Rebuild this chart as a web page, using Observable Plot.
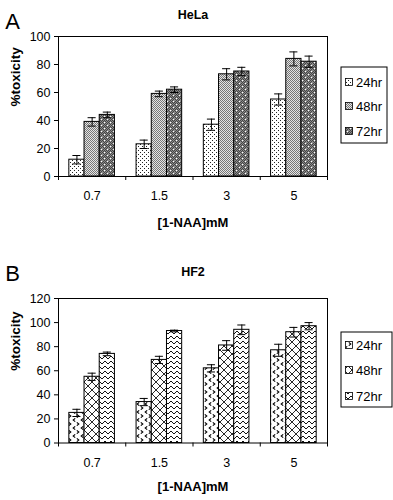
<!DOCTYPE html>
<html>
<head>
<meta charset="utf-8">
<script src="https://cdn.jsdelivr.net/npm/d3@7"></script>
<script src="https://cdn.jsdelivr.net/npm/@observablehq/plot@0.6"></script>
<style>
  body { margin: 0; background: #fff; font-family: "Liberation Sans", Arial, sans-serif; }
  #wrap { width: 393px; }
  .panel { width: 393px; height: 250px; }
</style>
</head>
<body>
<svg width="0" height="0" style="position:absolute">
  <defs>
    <pattern id="a24" width="4" height="4" patternUnits="userSpaceOnUse">
      <rect width="4" height="4" fill="#fff"/>
      <rect x="0" y="0" width="1" height="1" fill="#222"/>
      <rect x="2" y="2" width="1" height="1" fill="#222"/>
    </pattern>
    <pattern id="a48" width="2" height="2" patternUnits="userSpaceOnUse">
      <rect width="2" height="2" fill="#e4e4e4"/>
      <rect x="0" y="0" width="1" height="1" fill="#777"/>
      <rect x="1" y="1" width="1" height="1" fill="#777"/>
    </pattern>
    <pattern id="a72" width="6" height="6" patternUnits="userSpaceOnUse">
      <rect width="6" height="6" fill="#8a8a8a"/>
      <rect x="0" y="0" width="1" height="1" fill="#444"/>
      <rect x="2" y="0" width="1" height="1" fill="#444"/>
      <rect x="4" y="0" width="1" height="1" fill="#444"/>
      <rect x="1" y="1" width="1" height="1" fill="#444"/>
      <rect x="3" y="1" width="1" height="1" fill="#444"/>
      <rect x="5" y="1" width="1" height="1" fill="#444"/>
      <rect x="0" y="2" width="1" height="1" fill="#444"/>
      <rect x="4" y="2" width="1" height="1" fill="#444"/>
      <rect x="1" y="3" width="1" height="1" fill="#444"/>
      <rect x="3" y="3" width="1" height="1" fill="#444"/>
      <rect x="5" y="3" width="1" height="1" fill="#444"/>
      <rect x="2" y="4" width="1" height="1" fill="#444"/>
      <rect x="4" y="4" width="1" height="1" fill="#444"/>
      <rect x="1" y="5" width="1" height="1" fill="#444"/>
      <rect x="3" y="5" width="1" height="1" fill="#444"/>
      <rect x="2" y="2" width="1.2" height="1.2" fill="#fff"/>
      <rect x="5" y="5" width="1.2" height="1.2" fill="#fff"/>
    </pattern>
    <pattern id="b24" width="8" height="8" patternUnits="userSpaceOnUse">
      <rect width="8" height="8" fill="#fff"/>
      <path d="M3.2,0.4 L1.2,2 L3.2,3.6" fill="none" stroke="#000" stroke-width="1.1"/>
      <path d="M4.8,4.4 L6.8,6 L4.8,7.6" fill="none" stroke="#000" stroke-width="1.1"/>
    </pattern>
    <pattern id="b48" width="8" height="8" patternUnits="userSpaceOnUse">
      <rect width="8" height="8" fill="#fff"/>
      <path d="M0,0 L8,8 M8,0 L0,8 M-1,7 L1,9 M7,-1 L9,1 M-1,1 L1,-1 M7,9 L9,7" fill="none" stroke="#111" stroke-width="0.9"/>
    </pattern>
    <pattern id="b72" width="6" height="5" patternUnits="userSpaceOnUse">
      <rect width="6" height="5" fill="#fff"/>
      <path d="M0,4 L3,1 L6,4" fill="none" stroke="#111" stroke-width="1"/>
    </pattern>
  </defs>
</svg>
<div id="wrap">
  <div id="panelA" class="panel"></div>
  <div id="panelB" class="panel"></div>
</div>
<script>
// ---------- data ----------
const concentrations = ["0.7", "1.5", "3", "5"];
const seriesNames = ["24hr", "48hr", "72hr"];

const helaToxicity24 = [12, 23, 37, 55];
const helaToxicity48 = [39, 59, 73, 84];
const helaToxicity72 = [44, 62, 75, 82];
const helaError24 = [3, 3, 4, 4];
const helaError48 = [3, 2, 4, 5];
const helaError72 = [2, 2, 3, 4];
const helaYTicks = [0, 20, 40, 60, 80, 100];

const hf2Toxicity24 = [25, 34, 62, 77];
const hf2Toxicity48 = [55, 69, 81, 92];
const hf2Toxicity72 = [74, 93, 94, 97];
const hf2Error24 = [3, 3, 3, 5];
const hf2Error48 = [3, 3, 4, 4];
const hf2Error72 = [1.5, 0.7, 4, 3];
const hf2YTicks = [0, 20, 40, 60, 80, 100, 120];

// ---------- helpers ----------
function rows(valuesBySeries, errorsBySeries) {
  const out = [];
  concentrations.forEach((c, i) => {
    seriesNames.forEach((s, k) => {
      out.push({cat: c, i, series: s, k, value: valuesBySeries[k][i], err: errorsBySeries[k][i]});
    });
  });
  return out;
}

const BAR = 0.226;          // bar width in category units
const GROUP = BAR * 3;
const x1 = d => d.i - GROUP / 2 + d.k * BAR;
const x2 = d => x1(d) + BAR;
const xc = d => x1(d) + BAR / 2;
const CAP = 0.06;

function panel(el, cfg) {
  const data = rows(cfg.values, cfg.errors);
  const W = 393, H = 250;
  const chart = Plot.plot({
    width: W,
    height: H,
    marginLeft: 58,
    marginRight: 66,
    marginTop: cfg.mt,
    marginBottom: cfg.mb,
    style: {fontFamily: "'Liberation Sans', Arial, sans-serif", fontSize: "12px", color: "#000", background: "#fff", overflow: "visible"},
    x: {domain: [-0.5, concentrations.length - 0.5]},
    y: {domain: [0, cfg.yMax]},
    color: {domain: seriesNames, range: cfg.patterns},
    marks: [
      Plot.rect(data, {x1, x2, y1: 0, y2: "value", fill: "series", stroke: "#000", strokeWidth: 1}),
      Plot.ruleX(data, {x: xc, y1: d => d.value - d.err, y2: d => d.value + d.err, stroke: "#000", strokeWidth: 1}),
      Plot.ruleY(data, {y: d => d.value + d.err, x1: d => xc(d) - CAP, x2: d => xc(d) + CAP, stroke: "#000", strokeWidth: 1}),
      Plot.ruleY(data, {y: d => d.value - d.err, x1: d => xc(d) - CAP, x2: d => xc(d) + CAP, stroke: "#000", strokeWidth: 1}),
      Plot.frame({stroke: "#000", strokeWidth: 1}),
      Plot.axisY({ticks: cfg.yTicks, tickSize: 4, tickPadding: 4, label: null, fontSize: 12.5}),
      Plot.axisX({ticks: concentrations.map((_, i) => i), tickFormat: i => concentrations[i], tickSize: 0, tickPadding: cfg.catPad, label: null, fontSize: 12.5}),
      Plot.axisX({ticks: d3.range(-0.5, concentrations.length, 1), tickFormat: () => "", tickSize: 4, label: null}),
      Plot.text([cfg.title], {frameAnchor: "top", dy: cfg.titleDy, fontWeight: "bold", fontSize: 12.5}),
      Plot.text([cfg.letter], {frameAnchor: "top-left", dx: -46, dy: cfg.letterDy, fontSize: 22, textAnchor: "middle"}),
      Plot.text(["%toxicity"], {frameAnchor: "left", dx: -43, rotate: -90, fontWeight: "bold", fontSize: 13.5}),
      Plot.text(["[1-NAA]mM"], {frameAnchor: "bottom", dy: cfg.xLabelDy, fontWeight: "bold", fontSize: 13})
    ]
  });

  // legend box in the right margin
  const svg = d3.select(chart);
  const lg = svg.append("g").attr("text-anchor", "start");
  const b = cfg.legend;
  lg.append("rect").attr("x", b.x).attr("y", b.y).attr("width", b.w).attr("height", b.h)
    .attr("fill", "#fff").attr("stroke", "#000").attr("stroke-width", 1);
  seriesNames.forEach((s, k) => {
    const cy = b.items[k];
    lg.append("rect").attr("x", b.x + 4.5).attr("y", cy - 3.5).attr("width", 7).attr("height", 7)
      .attr("fill", cfg.patterns[k]).attr("stroke", "#000").attr("stroke-width", 0.8);
    lg.append("text").attr("x", b.x + 15).attr("y", cy).attr("dy", "0.35em")
      .attr("text-anchor", "start").attr("font-size", 13).attr("fill", "#000").text(s);
  });
  el.appendChild(chart);
}

panel(document.getElementById("panelA"), {
  letter: "A", title: "HeLa",
  values: [helaToxicity24, helaToxicity48, helaToxicity72],
  errors: [helaError24, helaError48, helaError72],
  yMax: 100, yTicks: helaYTicks,
  patterns: ["url(#a24)", "url(#a48)", "url(#a72)"],
  mt: 36, mb: 74, catPad: 15, titleDy: -26, letterDy: -23, xLabelDy: 50,
  legend: {x: 341, y: 67, w: 46, h: 76, items: [82, 106, 131]}
});

panel(document.getElementById("panelB"), {
  letter: "B", title: "HF2",
  values: [hf2Toxicity24, hf2Toxicity48, hf2Toxicity72],
  errors: [hf2Error24, hf2Error48, hf2Error72],
  yMax: 120, yTicks: hf2YTicks,
  patterns: ["url(#b24)", "url(#b48)", "url(#b72)"],
  mt: 48, mb: 57.5, catPad: 15, titleDy: -31, letterDy: -33, xLabelDy: 47.5,
  legend: {x: 341, y: 82, w: 51, h: 75, items: [95, 120, 146]}
});
</script>
</body>
</html>
